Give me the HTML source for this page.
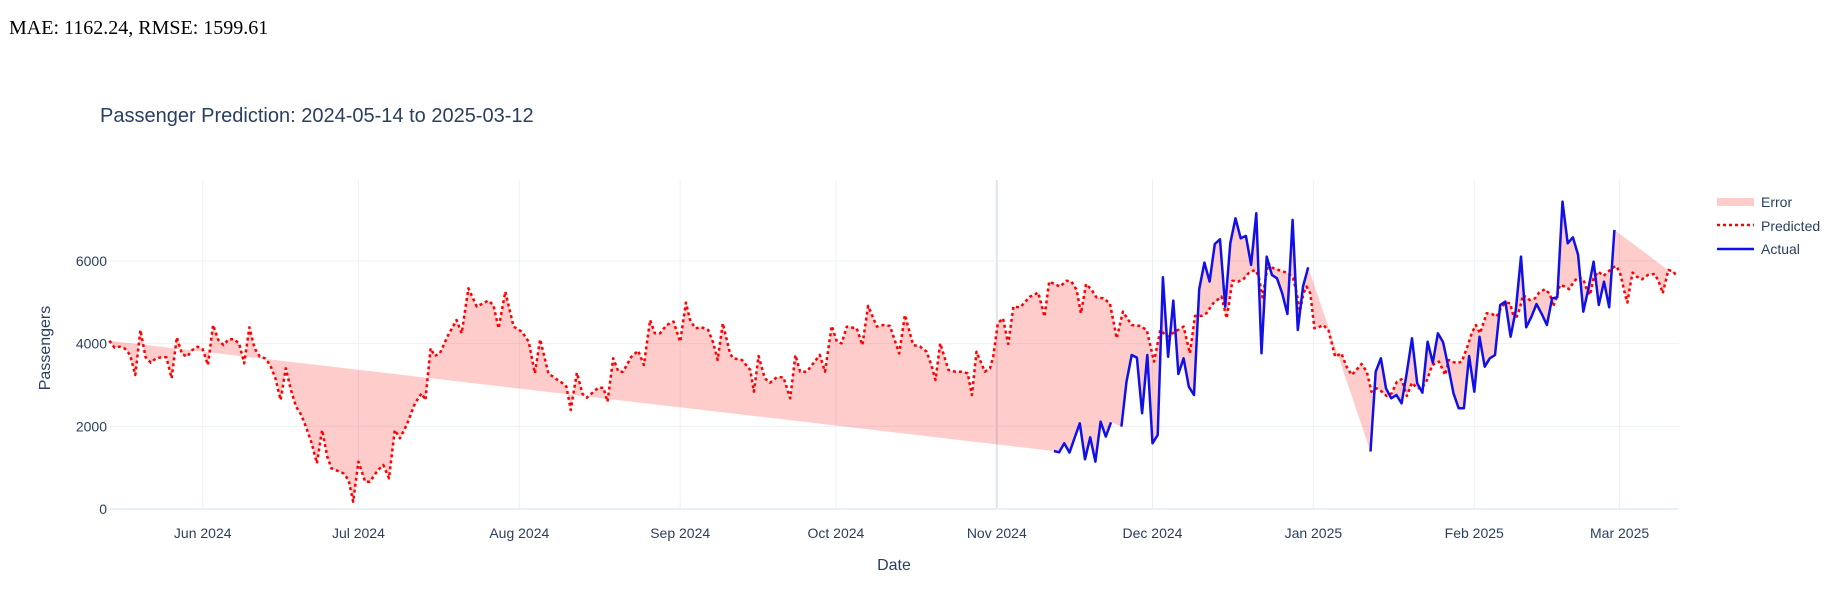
<!DOCTYPE html>
<html><head><meta charset="utf-8"><style>
body{margin:0;background:#fff;}
svg text{font-family:"Liberation Sans",sans-serif;}
</style></head><body>
<svg id="chart" width="1833" height="588" xmlns="http://www.w3.org/2000/svg">
<text x="9" y="34" font-size="20" fill="#000" style="font-family:'Liberation Serif',serif">MAE: 1162.24, RMSE: 1599.61</text>
<text x="100" y="122" font-size="20" fill="#2a3f5f">Passenger Prediction: 2024-05-14 to 2025-03-12</text>
<g id="grid"></g>
<g id="marks"></g>
<g id="axes"></g>
<text transform="translate(50,348) rotate(-90)" text-anchor="middle" font-size="16" fill="#2a3f5f">Passengers</text>
<text x="894" y="570" text-anchor="middle" font-size="16" fill="#2a3f5f">Date</text>
<g>
  <g>
    <rect x="1717" y="198" width="37" height="8" fill="#ffcccc"/>
    <text x="1761" y="207" font-size="14" fill="#2a3f5f">Error</text>
  </g>
  <g>
    <line x1="1717" y1="225" x2="1754" y2="225" stroke="#ff0000" stroke-width="2.5" stroke-dasharray="3,3"/>
    <text x="1761" y="231" font-size="14" fill="#2a3f5f">Predicted</text>
  </g>
  <g>
    <line x1="1717" y1="249" x2="1754" y2="249" stroke="#1010e8" stroke-width="2.5"/>
    <text x="1761" y="254" font-size="14" fill="#2a3f5f">Actual</text>
  </g>
</g>
</svg>
<script>
const xTickDays=[18,48,79,110,140,171,201,232,263,291];
const xTickLabels=["Jun 2024","Jul 2024","Aug 2024","Sep 2024","Oct 2024","Nov 2024","Dec 2024","Jan 2025","Feb 2025","Mar 2025"];
const yTicks=[0,2000,4000,6000];
const predDays=[0,1,2,3,4,5,6,7,8,9,10,11,12,13,14,15,16,17,18,19,20,21,22,23,24,25,26,27,28,29,30,31,32,33,34,35,36,37,38,39,40,41,42,42.8,45.1,46.1,47,48,49.3,50.2,51.8,52.8,53.9,55,56,57.3,58.9,60.2,60.9,61.9,62.7,63.7,65.3,66.9,67.9,69.2,70.8,73,74,75,76.3,77.9,79.5,80.8,82,83,84.6,85.9,87.2,88.1,88.9,90.1,91.2,92,94.2,95.2,96,97.1,98.1,99,100.6,101.9,103,104.2,105.1,106.1,107.4,108.7,110,111.1,111.9,112.9,114.1,115.4,116.4,117.2,118.2,119.6,120.2,121.9,123.5,124.2,125.1,126.3,127.3,128.6,129.9,131.2,132.2,133.1,134.4,136.9,137.9,139.2,140.2,141.1,142.1,144,145.1,146.2,147.9,149.1,150.4,152.2,153.3,154.9,156.2,157.5,158.5,159.2,160.1,161.7,163,164.2,165.4,166.2,167.1,168.7,169.7,170.3,171.2,172.2,173.2,174.2,175.5,177.4,179,180.2,181.1,183.2,184.4,185.4,186.4,187.2,188.2,189.3,190.2,191.5,192.8,194.1,195.3,197,198.6,199.9,201.3,202.5,203.8,205.7,207,208.2,209.2,210.5,211.4,212.7,214.3,215.3,216.4,217.5,218.5,219.5,220.8,221.5,222.2,223.3,224.3,226.2,227.2,228.1,228.8,229.4,230.1,230.7,231.4,232.2,233,233.9,234.9,236.2,237.4,238.4,239.4,241.3,242.3,243.2,244.2,245.2,246.1,247.1,248.1,249,250,251,252,252.9,253.9,254.9,256.2,257.4,258.1,259.6,260.6,261.8,262.5,263.3,264.1,265.4,266.4,267.3,268.3,269.1,269.9,270.5,271.2,271.8,272.4,273.7,274.7,275.5,276.6,277.6,278.2,278.8,279.5,280.5,281.3,282.2,283,284,284.6,285.3,286,286.9,287.9,288.8,289.8,290.4,291.2,292,292.5,293,293.5,294.3,295.3,296.5,297.8,298.8,299.3,300.4,301.4,302];
const predValues=[4073,3904,3928,3880,3727,3243,4332,3671,3541,3646,3671,3671,3163,4155,3751,3686,3848,3928,3864,3485,4453,4090,3969,4106,4106,4010,3526,4397,3889,3686,3646,3485,3163,2638,3405,2880,2476,2275,1953,1590,1106,1912,1266,985,863,702,177,1145,661,661,944,1065,742,1912,1710,2033,2557,2799,2638,3888,3703,3767,4211,4574,4251,5340,4897,5042,4937,4372,5259,4413,4291,4049,3283,4106,3283,3162,3057,2960,2396,3299,2783,2694,2936,2936,2597,3647,3323,3323,3686,3831,3485,4574,4251,4251,4453,4535,4049,4993,4574,4372,4396,4332,4009,3606,4493,3767,3647,3606,3364,2839,3703,3162,3057,3187,3187,2678,3727,3323,3323,3727,3323,4429,4049,4009,4413,4372,3969,4913,4413,4453,4429,3767,4695,3969,3929,3807,3444,3122,4009,3364,3323,3323,3283,2759,3807,3323,3405,3686,4493,4614,3993,4897,4881,5138,5235,4655,5501,5380,5525,5501,5300,4735,5445,5300,5122,5098,4977,4130,4775,4453,4429,4332,3566,4332,4170,4316,4413,3767,4671,4671,4735,4977,5138,4614,5525,5501,5558,5703,5784,5607,5122,5945,5824,5743,5703,5582,5219,4775,5219,5380,5219,4372,4396,4453,4332,3686,3767,3444,3243,3509,3323,2839,2920,2839,2735,2799,3081,3138,2735,3057,2920,2920,3122,3485,3566,3243,3606,3525,3566,3969,4251,4453,4251,4735,4719,4655,4897,4993,4977,4695,4655,4856,5179,5058,5098,5235,5317,5203,4897,5098,5421,5380,5317,5501,5607,5558,5340,5179,5582,5743,5639,5743,5848,5880,5663,5219,4993,5380,5719,5622,5558,5663,5687,5421,5219,5784,5743,5622];
const actualStartDay=182;
const actualValues=[1404,1372,1590,1364,1720,2073,1202,1735,1146,2114,1751,2098,null,1993,3081,3727,3662,2315,3727,1590,1791,5607,3686,5042,3267,3647,2960,2759,5317,5961,5501,6413,6526,4897,6429,7034,6550,6607,5905,7155,3767,6106,5663,5582,5219,4719,6994,4332,5380,5848,null,null,null,null,null,null,null,null,null,null,null,1388,3323,3647,2920,2678,2759,2557,3299,4130,3041,2815,4049,3541,4251,4033,3444,2799,2436,2436,3703,2839,4170,3444,3647,3727,4937,5017,4170,4816,6106,4396,4650,4961,4720,4453,5098,5122,7437,6429,6574,6147,4775,5340,5985,4937,5501,4881,6752];

const NS="http://www.w3.org/2000/svg";
const X0=109.3, PXD=5.19, Y0=509, PXV=0.04133, LEFT=110, RIGHT=1679, TOP=180;
function xs(d){return X0+PXD*d;}
function ys(v){return Y0-PXV*v;}
function mk(tag,attrs,parent){const e=document.createElementNS(NS,tag);for(const k in attrs)e.setAttribute(k,attrs[k]);parent.appendChild(e);return e;}
const grid=document.getElementById('grid'),marks=document.getElementById('marks'),axes=document.getElementById('axes');

xTickDays.forEach((d,i)=>{
  const l=mk('line',{x1:xs(d),x2:xs(d),y1:TOP,y2:Y0,stroke:i===5?'#dfe4ee':'#ebf0f8','stroke-width':i===5?2:1},grid);
  
  
  const t=mk('text',{x:xs(d),y:538,'text-anchor':'middle','font-size':14,fill:'#2a3f5f'},axes);
  t.textContent=xTickLabels[i];
  
  
});
yTicks.forEach(v=>{
  const l=mk('line',{x1:LEFT,x2:RIGHT,y1:ys(v),y2:ys(v),stroke:'#ebf0f8','stroke-width':v===0?2:1},grid);
  
  
  const t=mk('text',{x:107,y:ys(v)+5,'text-anchor':'end','font-size':14,fill:'#2a3f5f'},axes);
  t.textContent=String(v);
  
  
});

const predPts=predDays.map((d,i)=>[xs(d),ys(predValues[i])]);
const actPts=[];
actualValues.forEach((v,i)=>{if(v!==null)actPts.push([xs(actualStartDay+i),ys(v)]);});
const fillPts=predPts.concat(actPts.slice().reverse());
const fill=mk('polygon',{points:fillPts.map(p=>p[0].toFixed(1)+','+p[1].toFixed(1)).join(' '),fill:'rgba(255,0,0,0.2)',stroke:'none'},marks);



const pl=mk('polyline',{points:predPts.map(p=>p[0].toFixed(1)+','+p[1].toFixed(1)).join(' '),fill:'none',stroke:'#ff0000','stroke-width':2.5,'stroke-dasharray':'3,3','stroke-linejoin':'round'},marks);



let seg=[];const segs=[];
actualValues.forEach((v,i)=>{if(v===null){if(seg.length)segs.push(seg);seg=[];}else seg.push([xs(actualStartDay+i),ys(v)]);});
if(seg.length)segs.push(seg);
segs.forEach(s=>{
  const a=mk('polyline',{points:s.map(p=>p[0].toFixed(1)+','+p[1].toFixed(1)).join(' '),fill:'none',stroke:'#1010e8','stroke-width':2.5,'stroke-linejoin':'round'},marks);
  
  
});
</script>
</body></html>
